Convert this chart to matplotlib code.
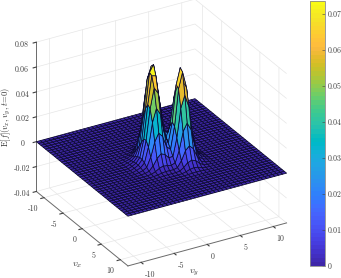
import matplotlib

matplotlib.use("Agg")
import matplotlib.pyplot as plt
import numpy as np
from matplotlib.cm import ScalarMappable
from matplotlib.colors import ListedColormap, Normalize

plt.rcParams["font.family"] = ["cmr10", "DejaVu Serif"]
plt.rcParams["mathtext.fontset"] = "cm"
plt.rcParams["axes.formatter.use_mathtext"] = True

# parula
PARULA = [
    (0.2422, 0.1504, 0.6603), (0.2504, 0.1650, 0.7076), (0.2578, 0.1818, 0.7511), (0.2647, 0.1978, 0.7952),
    (0.2706, 0.2147, 0.8364), (0.2751, 0.2342, 0.8710), (0.2783, 0.2559, 0.8991), (0.2803, 0.2782, 0.9221),
    (0.2813, 0.3006, 0.9414), (0.2810, 0.3228, 0.9579), (0.2795, 0.3447, 0.9717), (0.2760, 0.3667, 0.9829),
    (0.2699, 0.3892, 0.9906), (0.2602, 0.4123, 0.9952), (0.2440, 0.4358, 0.9988), (0.2206, 0.4603, 0.9973),
    (0.1963, 0.4847, 0.9892), (0.1834, 0.5074, 0.9798), (0.1786, 0.5289, 0.9682), (0.1764, 0.5499, 0.9520),
    (0.1687, 0.5703, 0.9359), (0.1540, 0.5902, 0.9218), (0.1460, 0.6091, 0.9079), (0.1380, 0.6276, 0.8973),
    (0.1248, 0.6459, 0.8883), (0.1113, 0.6635, 0.8763), (0.0952, 0.6798, 0.8598), (0.0689, 0.6948, 0.8394),
    (0.0297, 0.7082, 0.8163), (0.0036, 0.7203, 0.7917), (0.0067, 0.7312, 0.7660), (0.0433, 0.7411, 0.7394),
    (0.0964, 0.7500, 0.7120), (0.1408, 0.7584, 0.6842), (0.1717, 0.7670, 0.6554), (0.1938, 0.7758, 0.6251),
    (0.2161, 0.7843, 0.5923), (0.2470, 0.7918, 0.5567), (0.2906, 0.7973, 0.5188), (0.3406, 0.8008, 0.4789),
    (0.3909, 0.8029, 0.4354), (0.4456, 0.8024, 0.3909), (0.5044, 0.7993, 0.3480), (0.5616, 0.7942, 0.3045),
    (0.6174, 0.7876, 0.2612), (0.6720, 0.7793, 0.2227), (0.7242, 0.7698, 0.1910), (0.7738, 0.7598, 0.1646),
    (0.8203, 0.7498, 0.1535), (0.8634, 0.7406, 0.1596), (0.9035, 0.7330, 0.1774), (0.9393, 0.7288, 0.2100),
    (0.9728, 0.7298, 0.2394), (0.9956, 0.7434, 0.2371), (0.9970, 0.7659, 0.2199), (0.9952, 0.7893, 0.2028),
    (0.9892, 0.8136, 0.1885), (0.9786, 0.8386, 0.1766), (0.9676, 0.8639, 0.1643), (0.9610, 0.8890, 0.1537),
    (0.9597, 0.9135, 0.1423), (0.9628, 0.9373, 0.1265), (0.9691, 0.9606, 0.1064), (0.9769, 0.9839, 0.0805),
]

# malha do plano e ticks
vx = np.arange(-12, 12.01, 0.6)
vy = np.arange(-12, 12.01, 0.6)
x_ticks = [-10, -5, 0, 5, 10]
y_ticks = [-10, -5, 0, 5, 10]
z_ticks = [-0.04, -0.02, 0, 0.02, 0.04, 0.06, 0.08]
z_labels = ["-0.04", "-0.02", "0", "0.02", "0.04", "0.06", "0.08"]
cbar_ticks = [0, 0.01, 0.02, 0.03, 0.04, 0.05, 0.06, 0.07]
cbar_labels = ["0", "0.01", "0.02", "0.03", "0.04", "0.05", "0.06", "0.07"]
z_max = 0.0736

# perfis, nos nós vx = -4.2..6 e vy = -4.8..4.8
vx_first = -4.2
vy_first = -4.8

back_left_vx = [0.01, 0.03, 0.09, 0.25, 0.54, 0.86, 1.00, 0.86, 0.54, 0.25, 0.09, 0.03, 0.01, 0, 0, 0, 0, 0]
back_left_vy = [0.01, 0.02, 0.05, 0.12, 0.40, 0.82, 1.00, 0.82, 0.40, 0.12, 0.05, 0.02, 0.01, 0, 0, 0, 0]
front_left_vx = [0, 0, 0, 0.01, 0.03, 0.09, 0.25, 0.54, 0.86, 1.00, 0.86, 0.54, 0.25, 0.09, 0.03, 0.01, 0, 0]
front_left_vy = [0.02, 0.05, 0.12, 0.40, 0.82, 1.00, 0.82, 0.40, 0.12, 0.05, 0.02, 0.01, 0, 0, 0, 0, 0]
back_right_vx = [0, 0, 0, 0, 0.01, 0.03, 0.09, 0.25, 0.54, 0.86, 1.00, 0.86, 0.54, 0.25, 0.09, 0.03, 0.01, 0]
back_right_vy = [0, 0, 0, 0, 0, 0.01, 0.02, 0.05, 0.12, 0.40, 0.82, 1.00, 0.82, 0.40, 0.12, 0.05, 0.02]
front_right_vx = [0, 0, 0, 0, 0, 0, 0.01, 0.03, 0.09, 0.25, 0.54, 0.86, 1.00, 0.86, 0.54, 0.25, 0.09, 0.03]
front_right_vy = [0, 0, 0, 0, 0, 0.01, 0.02, 0.05, 0.12, 0.40, 0.82, 1.00, 0.82, 0.40, 0.12, 0.05, 0.02]
lobe_heights = [0.0637, 0.0479, 0.0618, 0.0216]

lobes = [
    (back_left_vx, back_left_vy),
    (front_left_vx, front_left_vy),
    (back_right_vx, back_right_vy),
    (front_right_vx, front_right_vy),
]
Z = np.zeros((len(vx), len(vy)))
i0 = np.argmin(np.abs(vx - vx_first))
j0 = np.argmin(np.abs(vy - vy_first))
for (perfil_x, perfil_y), h in zip(lobes, lobe_heights):
    Z[i0:i0 + len(perfil_x), j0:j0 + len(perfil_y)] += h * np.outer(perfil_x, perfil_y)
X, Y = np.meshgrid(vx, vy, indexing="ij")

W, H = 341, 278
fig = plt.figure(figsize=(W / 100, H / 100), dpi=100)

# eixo 3D quadrado, centrado no centro da caixa
lado = 330
cx, cy = 157, 137
ax = fig.add_axes([(cx - lado / 2) / W, 1 - (cy + lado / 2) / H, lado / W, lado / H], projection="3d")
ax.set_proj_type("ortho")
ax.view_init(elev=28, azim=-30)
ax.set_box_aspect((1, 1, 0.923), zoom=0.91)
ax.patch.set_alpha(0)

cmap = ListedColormap(PARULA)
norm = Normalize(0, z_max)
ax.plot_surface(X, Y, Z, rstride=1, cstride=1, cmap=cmap, norm=norm, shade=False,
                edgecolor="#0c0a30", linewidth=0.55)

ax.set_xlim(-12, 12)
ax.set_ylim(-12, 12)
ax.set_zlim(-0.04, 0.08)
ax.set_xticks(x_ticks)
ax.set_yticks(y_ticks)
ax.set_zticks(z_ticks)
ax.set_zticklabels(z_labels)
ax.set_xticklabels([str(t) for t in x_ticks], ha="right")
ax.set_yticklabels([str(t) for t in y_ticks], ha="left")
ax.tick_params(labelsize=5.7, colors="#404040", length=2, width=0.4)
ax.tick_params(axis="x", pad=-3.5)
ax.tick_params(axis="y", pad=-3.5)
ax.tick_params(axis="z", pad=-1)

for eixo in (ax.xaxis, ax.yaxis, ax.zaxis):
    eixo.set_pane_color((1, 1, 1, 0))
    eixo.pane.set_edgecolor("#e6e6e6")
    eixo.line.set_color("#6a6a6a")
    eixo.line.set_linewidth(0.7)
    eixo._axinfo["grid"].update(color="#e6e6e6", linewidth=0.5)
    eixo._axinfo["tick"].update(inward_factor=0.25, outward_factor=0.0)
ax.zaxis.set_ticks_position("lower")

fig.text(77 / W, 1 - 265 / H, r"$v_x$", fontsize=7, color="#303030", ha="center", va="center")
fig.text(194 / W, 1 - 273 / H, r"$v_y$", fontsize=7, color="#303030", ha="center", va="center")
fig.text(6 / W, 1 - 117 / H, r"$\mathrm{E}[f](v_x,v_y,t\!=\!0)$", fontsize=6.1, color="#303030",
         rotation=90, ha="center", va="center")

# barra de cores
cax = fig.add_axes([310 / W, 1 - 266 / H, 14.5 / W, 265 / H])
cbar = fig.colorbar(ScalarMappable(norm=norm, cmap=cmap), cax=cax)
cbar.set_ticks(cbar_ticks)
cbar.set_ticklabels(cbar_labels)
cax.tick_params(direction="in", length=2.5, width=0.4, labelsize=5.7, colors="#404040", pad=2)
cbar.outline.set_edgecolor("#8a8a8a")
cbar.outline.set_linewidth(0.6)

fig.savefig("out.png", dpi=100)
